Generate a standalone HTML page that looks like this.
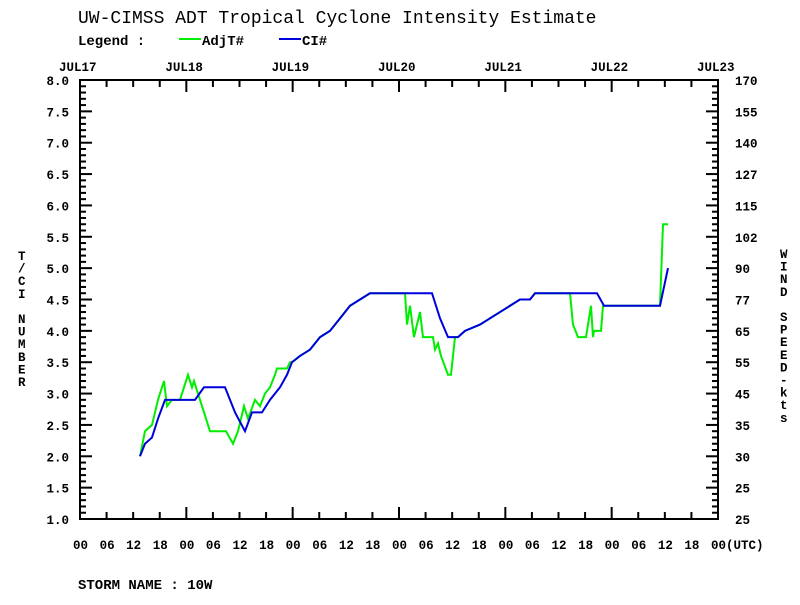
<!DOCTYPE html>
<html><head><meta charset="utf-8"><style>
html,body{margin:0;padding:0;background:#fff;}
svg text{font-family:"Liberation Mono",monospace;fill:#000;}
</style></head><body>
<svg id="s" width="800" height="600" xmlns="http://www.w3.org/2000/svg">
<rect width="800" height="600" fill="#fff"/>
<text x="78" y="23" font-size="18">UW-CIMSS ADT Tropical Cyclone Intensity Estimate</text>
<text x="78" y="45" font-size="14" font-weight="bold">Legend :</text>
<line x1="179" y1="39" x2="201" y2="39" stroke="#00ee00" stroke-width="2"/>
<text x="202" y="45" font-size="14" font-weight="bold">AdjT#</text>
<line x1="279" y1="39" x2="301" y2="39" stroke="#0000dd" stroke-width="2"/>
<text x="302" y="45" font-size="14" font-weight="bold">CI#</text>
<text x="78" y="589" font-size="14" font-weight="bold">STORM NAME :  10W</text>
<g id="ax"></g>
</svg>
<script>
var g=document.getElementById('ax'),h='';
var L=80,R=718,T=80,B=519,px=(R-L)/144;
function X(hr){return L+hr*px}
function Y(v){return B-(v-1)*(B-T)/7}
h+='<rect x="'+L+'" y="'+T+'" width="'+(R-L)+'" height="'+(B-T)+'" fill="none" stroke="#000" stroke-width="2"/>';
for(var i=0;i<=24;i++){var x=X(i*6),len=(i%4==0)?12:7;
 h+='<line x1="'+x+'" y1="'+T+'" x2="'+x+'" y2="'+(T+len)+'" stroke="#000" stroke-width="2"/>';
 h+='<line x1="'+x+'" y1="'+B+'" x2="'+x+'" y2="'+(B-len)+'" stroke="#000" stroke-width="2"/>';
 var lab=['00','06','12','18'][i%4];if(i==24)lab='00(UTC)';
 h+='<text x="'+(x-7)+'" y="549" font-size="12.5" font-weight="bold">'+lab+'</text>';}
var days=['JUL17','JUL18','JUL19','JUL20','JUL21','JUL22','JUL23'];
for(var d=0;d<7;d++)h+='<text x="'+(X(d*24)-21)+'" y="71" font-size="12.5" font-weight="bold">'+days[d]+'</text>';
var rl=['25','25','30','35','45','55','65','77','90','102','115','127','140','155','170'];
for(var k=0;k<=70;k++){var v=1+k*0.1,y=Y(v),len=(k%5==0)?12:6;
 h+='<line x1="'+L+'" y1="'+y+'" x2="'+(L+len)+'" y2="'+y+'" stroke="#000" stroke-width="2"/>';
 h+='<line x1="'+R+'" y1="'+y+'" x2="'+(R-len)+'" y2="'+y+'" stroke="#000" stroke-width="2"/>';
 if(k%5==0){h+='<text x="69" y="'+(y+5)+'" font-size="12.5" font-weight="bold" text-anchor="end">'+v.toFixed(1)+'</text>';
 h+='<text x="735" y="'+(y+5)+'" font-size="12.5" font-weight="bold">'+rl[k/5]+'</text>';}}
var lt='T/CI NUMBER';for(var i=0;i<lt.length;i++)h+='<text x="18" y="'+(260+i*12.6)+'" font-size="12.5" font-weight="bold">'+lt[i]+'</text>';
var rt='WIND SPEED-kts';for(var i=0;i<rt.length;i++)h+='<text x="780" y="'+(258+i*12.6)+'" font-size="12.5" font-weight="bold">'+rt[i]+'</text>';
function P(a,col){var s='';for(var i=0;i<a.length;i+=2)s+=(i?'L':'M')+a[i]+' '+Y(a[i+1]);
 return '<path d="'+s+'" fill="none" stroke="'+col+'" stroke-width="2"/>';}
var common=[292,3.5,300,3.6,310,3.7,320,3.9,330,4.0,340,4.2,350,4.4,360,4.5,370,4.6,404,4.6];
var ci=[140,2.0,145,2.2,152,2.3,158,2.6,165,2.9,195,2.9,204,3.1,225,3.1,235,2.7,245,2.4,252,2.7,262,2.7,270,2.9,280,3.1,287,3.3].concat(common,[432,4.6,440,4.2,448,3.9,458,3.9,465,4.0,480,4.1,490,4.2,500,4.3,510,4.4,520,4.5,530,4.5,535,4.6,597,4.6,604,4.4,660,4.4,668,5.0]);
var gr=[140,2.0,145,2.4,152,2.5,158,2.9,164,3.2,167,2.8,172,2.9,180,2.9,188,3.3,192,3.1,194,3.2,200,2.9,210,2.4,226,2.4,233,2.2,238,2.4,244,2.8,248,2.6,255,2.9,260,2.8,265,3.0,270,3.1,275,3.3,277,3.4,287,3.4,290,3.5].concat(common,[405,4.6,407,4.1,410,4.4,414,3.9,420,4.3,423,3.9,433,3.9,435,3.7,438,3.8,441,3.6,448,3.3,451,3.3,455,3.9,458,3.9,465,4.0,480,4.1,490,4.2,500,4.3,510,4.4,520,4.5,530,4.5,535,4.6,570,4.6,573,4.1,578,3.9,586,3.9,591,4.4,593,3.9,594,4.0,601,4.0,603,4.4,660,4.4,663,5.7,668,5.7]);
h+=P(gr,'#00ee00')+P(ci,'#0000dd');
g.innerHTML=h;
</script>
</body></html>
